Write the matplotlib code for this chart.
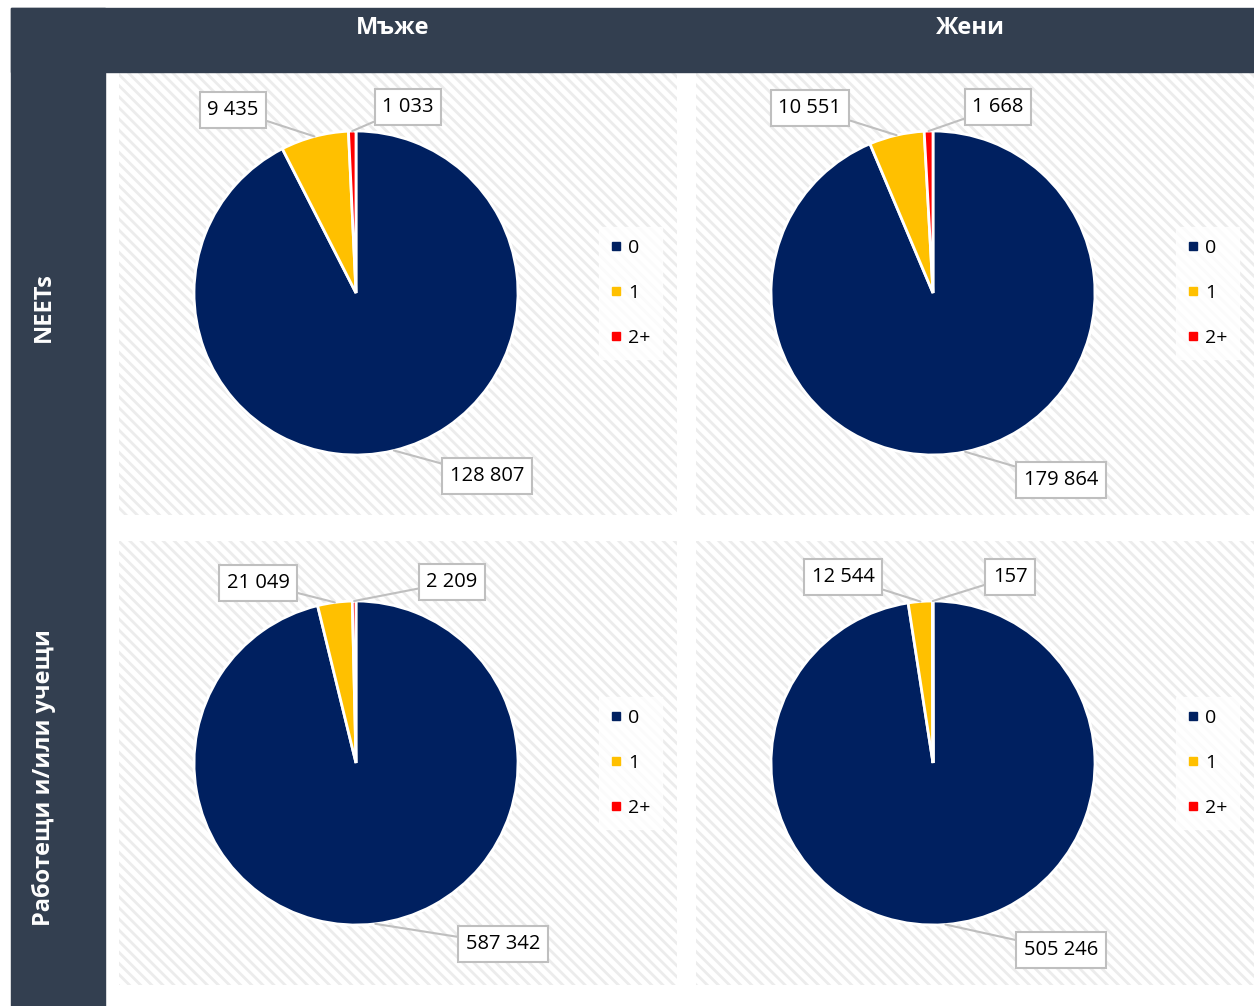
import numpy as np
import matplotlib.pyplot as plt
from matplotlib.patches import Rectangle
from matplotlib.lines import Line2D

plt.rcParams['font.family'] = ['Open Sans', 'DejaVu Sans']
plt.rcParams['hatch.linewidth'] = 2.0

# data
columns = ["Мъже", "Жени"]
rows = ["NEETs", "Работещи и/или учещи"]
categories = ["0", "1", "2+"]
colors = ["#002060", "#FFC000", "#FF0000"]
men_neet = [128807, 9435, 1033]
women_neet = [179864, 10551, 1668]
men_work = [587342, 21049, 2209]
women_work = [505246, 12544, 157]
values = [[men_neet, women_neet], [men_work, women_work]]

# label boxes (panel pixel coords, y from bottom) for categories 0, 1, 2+
label_pos = [
    [[(368, 39), (114, 405), (289, 408)], [(365, 35), (114, 407), (302, 408)]],
    [[(384, 41), (139, 402), (333, 403)], [(365, 35), (147, 408), (314, 408)]],
]

W, H = 1254, 1006
fig = plt.figure(figsize=(W / 100, H / 100), dpi=100)
dark = "#333F50"
fig.patches.append(Rectangle((11 / W, 1 - 72 / H), 1 - 11 / W, 64 / H,
                             transform=fig.transFigure, color=dark, zorder=0))
fig.patches.append(Rectangle((11 / W, 0), 94 / W, 1 - 8 / H,
                             transform=fig.transFigure, color=dark, zorder=0))

for j, c in enumerate(columns):
    cx = [393, 970][j]
    fig.text(cx / W, 1 - 28 / H, c, color="white", fontsize=17, fontweight="bold",
             ha="center", va="center")
for i, r in enumerate(rows):
    cy = [307, 778][i]
    fig.text(44 / W, 1 - cy / H, r, color="white", fontsize=17, fontweight="bold",
             ha="center", va="center", rotation=90)

panel_x = [119, 696]
panel_top = [73, 541]
panel_h = [442, 444]
pw = 558
R = 162

for i in range(2):
    for j in range(2):
        x0, y0, ph = panel_x[j], panel_top[i], panel_h[i]
        ax = fig.add_axes([x0 / W, 1 - (y0 + ph) / H, pw / W, ph / H])
        ax.add_patch(Rectangle((0, 0), pw, ph, facecolor="white", edgecolor="#ececec",
                               hatch="\\\\\\", lw=0, zorder=0))
        vals = values[i][j]
        center = (237, 222)
        ax.pie(vals, colors=colors, startangle=90, counterclock=False,
               center=center, radius=R, frame=True,
               wedgeprops=dict(edgecolor="white", linewidth=2))
        ax.set_xlim(0, pw)
        ax.set_ylim(0, ph)
        ax.set_aspect("equal")
        ax.axis("off")
        total = sum(vals)
        cum = 0
        for k, v in enumerate(vals):
            mid = (cum + v / 2) / total
            cum += v
            ang = np.deg2rad(90 - 360 * mid)
            px = center[0] + R * np.cos(ang)
            py = center[1] + R * np.sin(ang)
            txt = f"{v:,}".replace(",", " ")
            ax.annotate(txt, xy=(px, py), xytext=label_pos[i][j][k], fontsize=14.5,
                        ha="center", va="center", zorder=5,
                        bbox=dict(boxstyle="square,pad=0.38", fc="white",
                                  ec="#bfbfbf", lw=1.5),
                        arrowprops=dict(arrowstyle="-", color="#bfbfbf", lw=1.5,
                                        shrinkA=0, shrinkB=0))
        handles = [Line2D([], [], marker="s", linestyle="none", markersize=6,
                          color=col) for col in colors]
        leg = ax.legend(handles, categories, loc="center left",
                        bbox_to_anchor=(470, 222), bbox_transform=ax.transData,
                        fontsize=14, frameon=True, fancybox=False,
                        labelspacing=1.4, handlelength=0.55, handletextpad=0.35,
                        borderpad=0.6, edgecolor="white")
        leg.get_frame().set_facecolor("white")

fig.savefig("out.png", dpi=100)
